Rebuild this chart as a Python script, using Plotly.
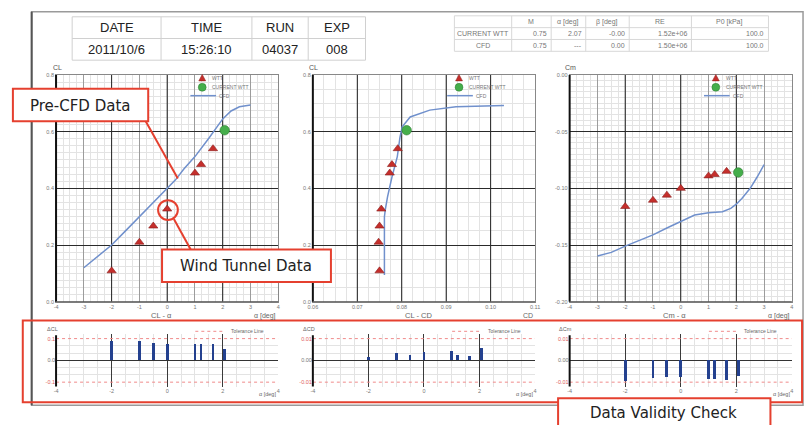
import plotly.graph_objects as go

W, H = 811, 425
def X(p): return p / W
def Y(p): return 1 - p / H

# ---------------- data ----------------
alpha_wtt = [-2.0, -1.0, -0.5, 0.0, 1.0, 1.22, 1.65]
cl_wtt = [0.109, 0.21, 0.267, 0.327, 0.454, 0.484, 0.54]
cd_wtt = [0.0750, 0.0748, 0.0750, 0.0754, 0.0773, 0.0778, 0.0791]
cm_wtt = [-0.116, -0.1105, -0.106, -0.100, -0.089, -0.0878, -0.085]

alpha_cur = [2.07]
cl_cur = [0.605]
cd_cur = [0.0811]
cm_cur = [-0.086]

alpha_cfd = [-3.0, -2.5, -2.0, -1.5, -1.0, -0.5, 0.0, 0.3, 0.6, 1.0, 1.5, 2.0, 2.3, 2.6, 3.0]
cl_cfd = [0.12, 0.16, 0.20, 0.25, 0.30, 0.35, 0.40, 0.43, 0.468, 0.512, 0.577, 0.645, 0.673, 0.688, 0.694]

cd_cfd_polar = [0.0761, 0.0761, 0.0761, 0.0763, 0.0768, 0.0778, 0.0790, 0.0796, 0.0801, 0.0819, 0.0863, 0.0922, 0.1030]
cl_cfd_polar = [0.094, 0.22, 0.30, 0.325, 0.37, 0.44, 0.512, 0.58, 0.617, 0.652, 0.676, 0.688, 0.692]

alpha_cfd_cm = [-3.0, -2.5, -2.0, -1.5, -1.0, -0.5, 0.0, 0.5, 1.0, 1.5, 1.8, 2.0, 2.2, 2.5, 2.75, 3.0]
cm_cfd = [-0.1596, -0.1565, -0.151, -0.1462, -0.141, -0.135, -0.129, -0.1235, -0.1215, -0.1206,
          -0.1177, -0.114, -0.109, -0.100, -0.090, -0.079]

alpha_delta = [-2.0, -1.0, -0.5, 0.0, 1.0, 1.22, 1.65, 2.07]
dcl = [0.088, 0.091, 0.082, 0.074, 0.074, 0.074, 0.074, 0.053]
dcd = [0.0015, 0.0035, 0.0026, 0.0038, 0.0044, 0.0024, 0.0018, 0.0059]
dcm = [-0.0093, -0.0083, -0.0078, -0.0078, -0.0087, -0.0087, -0.0090, -0.0070]
tol_cl = 0.1
tol_cd = 0.01
tol_cm = 0.01

alpha_ticks = [-4, -3, -2, -1, 0, 1, 2, 3, 4]
alpha_ticks_small = [-4, -2, 0, 2, 4]
cl_ticks = [0.0, 0.2, 0.4, 0.6, 0.8]
cd_ticks = [0.06, 0.07, 0.08, 0.09, 0.10, 0.11]
cm_ticks = [-0.20, -0.15, -0.10, -0.05, 0.00]

header_cols = ["DATE", "TIME", "RUN", "EXP"]
header_vals = ["2011/10/6", "15:26:10", "04037", "008"]
cond_cols = ["", "M", "α [deg]", "β [deg]", "RE", "P0 [kPa]"]
cond_rows = [["CURRENT WTT", "0.75", "2.07", "-0.00", "1.52e+06", "100.0"],
             ["CFD", "0.75", "---", "0.00", "1.50e+06", "100.0"]]

# ---------------- style ----------------
RED = "#e5402f"
TICKF = dict(family="Liberation Sans", size=5.5, color="#777")
WTT_C = "#c52f2c"
CUR_C = "#45ae4b"
CFD_C = "#7090cc"
BAR_C = "#24418f"

TOP = (73, 303)
BOT = (336, 389)
COLS = [(51.7, 276.7), (311.7, 536.7), (571.7, 796.7)]

fig = go.Figure()
shapes = []
ann = []

def add_line(x0, y0, x1, y1, color, width=1, dash=None):
    shapes.append(dict(type="line", xref="paper", yref="paper", x0=X(x0), y0=Y(y0), x1=X(x1), y1=Y(y1),
                       line=dict(color=color, width=width, dash=dash)))

def add_text(x, y, text, size, color="#222", xanchor="center", family="Liberation Sans"):
    ann.append(dict(x=X(x), y=Y(y), xref="paper", yref="paper", text=text, showarrow=False,
                    xanchor=xanchor, yanchor="middle", font=dict(family=family, size=size, color=color)))

# ---------------- top charts ----------------
top_specs = [
    dict(xs=alpha_wtt, ys=cl_wtt, cx=alpha_cur, cy=cl_cur, lx=alpha_cfd, ly=cl_cfd,
         xr=[-4, 4], xt=alpha_ticks, xtt=[str(v) for v in alpha_ticks], xmin=0.25,
         yr=[0, 0.8], yt=cl_ticks, ytt=["%.1f" % v for v in cl_ticks], ymin=0.025,
         dark=[-2, 0, 2], title="CL", sub="CL - α", unit="α [deg]"),
    dict(xs=cd_wtt, ys=cl_wtt, cx=cd_cur, cy=cl_cur, lx=cd_cfd_polar, ly=cl_cfd_polar,
         xr=[0.06, 0.11], xt=cd_ticks, xtt=["%.2f" % v for v in cd_ticks], xmin=0.0025,
         yr=[0, 0.8], yt=cl_ticks, ytt=["%.1f" % v for v in cl_ticks], ymin=0.05,
         dark=[0.07, 0.08, 0.09, 0.10], title="CL", sub="CL - CD", unit="CD"),
    dict(xs=alpha_wtt, ys=cm_wtt, cx=alpha_cur, cy=cm_cur, lx=alpha_cfd_cm, ly=cm_cfd,
         xr=[-4, 4], xt=alpha_ticks, xtt=[str(v) for v in alpha_ticks], xmin=0.25,
         yr=[-0.2, 0.0], yt=cm_ticks, ytt=["%.2f" % v for v in cm_ticks], ymin=0.005,
         dark=[-2, 0, 2], title="Cm", sub="Cm - α", unit="α [deg]"),
]

for i, s in enumerate(top_specs):
    n = i + 1
    xa = "x" if n == 1 else "x%d" % n
    ya = "y" if n == 1 else "y%d" % n
    x0, x1 = COLS[i]
    fig.add_trace(go.Scatter(x=s["lx"], y=s["ly"], mode="lines", line=dict(color=CFD_C, width=1.5),
                             xaxis=xa, yaxis=ya, showlegend=False))
    fig.add_trace(go.Scatter(x=s["xs"], y=s["ys"], mode="markers",
                             marker=dict(symbol="triangle-up", size=8, color=WTT_C,
                                         line=dict(color="#8a1d1b", width=0.6)),
                             xaxis=xa, yaxis=ya, showlegend=False))
    fig.add_trace(go.Scatter(x=s["cx"], y=s["cy"], mode="markers",
                             marker=dict(symbol="circle", size=9.5, color=CUR_C,
                                         line=dict(color="#2c7a31", width=0.6)),
                             xaxis=xa, yaxis=ya, showlegend=False))
    xkw = dict(domain=[X(x0), X(x1)], range=s["xr"], anchor=ya, tickmode="array", tickvals=s["xt"],
               ticktext=s["xtt"], tickfont=TICKF, showline=True, mirror=True, linecolor="#888",
               linewidth=1, zeroline=False, ticks="", gridcolor="#9c9c9c", gridwidth=1,
               minor=dict(dtick=s["xmin"], tick0=s["xr"][0], showgrid=True, gridcolor="#e3e3e3", gridwidth=1))
    ykw = dict(domain=[Y(TOP[1]), Y(TOP[0])], range=s["yr"], anchor=xa, tickmode="array", tickvals=s["yt"],
               ticktext=s["ytt"], tickfont=TICKF, showline=True, mirror=True, linecolor="#888",
               linewidth=1, zeroline=False, ticks="", gridcolor="#2a2a2a", gridwidth=1,
               minor=dict(dtick=s["ymin"], tick0=s["yr"][0], showgrid=True, gridcolor="#e3e3e3", gridwidth=1))
    fig.layout["xaxis" if n == 1 else "xaxis%d" % n] = xkw
    fig.layout["yaxis" if n == 1 else "yaxis%d" % n] = ykw
    for d in s["dark"]:
        shapes.append(dict(type="line", xref=xa, yref=ya, x0=d, x1=d, y0=s["yr"][0], y1=s["yr"][1],
                           line=dict(color="#2a2a2a", width=1), layer="between"))
    # thick left axis
    add_line(x0, TOP[0], x0, TOP[1], "#111", 2)
    add_line(x0, TOP[1], x1, TOP[1], "#555", 1)
    # titles
    add_text(x0 + 1, 65, s["title"], 7, "#555")
    add_text(x0 + 106.5, 317, s["sub"], 7.5, "#666")
    ann.append(dict(x=X(x1), y=Y(317), xref="paper", yref="paper", text=s["unit"], showarrow=False,
                    xanchor="right", yanchor="middle", font=dict(family="Liberation Sans", size=7, color="#666")))
    # legend samples
    lx = x0 + 148
    shapes.append(dict(type="path", xref="paper", yref="paper",
                       path="M %f,%f L %f,%f L %f,%f Z" % (X(lx - 3.5), Y(79), X(lx + 3.5), Y(79), X(lx), Y(72.5)),
                       fillcolor=WTT_C, line=dict(color="#8a1d1b", width=0.5)))
    shapes.append(dict(type="circle", xref="paper", yref="paper", x0=X(lx - 4), x1=X(lx + 4),
                       y0=Y(89.5), y1=Y(81.5), fillcolor=CUR_C, line=dict(color="#2c7a31", width=0.5)))
    add_line(x0 + 136, 94, x0 + 162, 94, CFD_C, 1.5)
    add_text(x0 + 156, 76, "WTT", 5, "#777", "left")
    add_text(x0 + 156, 85.5, "CURRENT WTT", 5, "#777", "left")
    add_text(x0 + 163, 94, "CFD", 5, "#777", "left")

# ---------------- bottom (validity) charts ----------------
bot_specs = [
    dict(d=dcl, tol=tol_cl, fmt="%.1f", title="ΔCL"),
    dict(d=dcd, tol=tol_cd, fmt="%.2f", title="ΔCD"),
    dict(d=dcm, tol=tol_cm, fmt="%.2f", title="ΔCm"),
]
for i, s in enumerate(bot_specs):
    n = i + 4
    xa, ya = "x%d" % n, "y%d" % n
    x0, x1 = COLS[i]
    tol = s["tol"]
    fig.add_trace(go.Bar(x=alpha_delta, y=s["d"], width=0.1, marker=dict(color=BAR_C, line=dict(width=0)),
                         xaxis=xa, yaxis=ya, showlegend=False))
    tt = ['<span style="color:#e06060">%s</span>' % (s["fmt"] % -tol), s["fmt"] % 0,
          '<span style="color:#e06060">%s</span>' % (s["fmt"] % tol)]
    fig.layout["xaxis%d" % n] = dict(domain=[X(x0), X(x1)], range=[-4, 4], anchor=ya, tickmode="array",
                                     tickvals=alpha_ticks_small, ticktext=[str(v) for v in alpha_ticks_small],
                                     tickfont=TICKF, showline=False, zeroline=False, ticks="",
                                     gridcolor="#3a3a3a", gridwidth=1,
                                     minor=dict(dtick=0.5, tick0=-4, showgrid=True, gridcolor="#e3e3e3"))
    fig.layout["yaxis%d" % n] = dict(domain=[Y(BOT[1]), Y(BOT[0])], range=[-1.2 * tol, 1.2 * tol], anchor=xa,
                                     tickmode="array", tickvals=[-tol, 0, tol], ticktext=tt, tickfont=TICKF,
                                     showgrid=False, zeroline=True, zerolinecolor="#333", zerolinewidth=1,
                                     showline=False, ticks="",
                                     minor=dict(tickvals=[-tol * 2 / 3, -tol / 3, tol / 3, tol * 2 / 3],
                                                showgrid=True, gridcolor="#e3e3e3"))
    for v in (tol, -tol):
        shapes.append(dict(type="line", xref=xa, yref=ya, x0=-4, x1=4, y0=v, y1=v,
                           line=dict(color="#f08a8a", width=1, dash="dot"), layer="between"))
    add_line(x0, BOT[0] + 1, x0, BOT[1], "#111", 2)
    add_text(x0 - 4, 331, s["title"], 5.5, "#666")
    add_line(x0 + 141, 333, x0 + 170, 333, "#f08a8a", 1, "dot")
    add_text(x0 + 175, 333, "Tolerance Line", 5, "#666", "left")
    ann.append(dict(x=X(x1), y=Y(397), xref="paper", yref="paper", text="α [deg]", showarrow=False,
                    xanchor="right", yanchor="middle", font=dict(family="Liberation Sans", size=5.5, color="#666")))

# ---------------- outer frame ----------------
shapes.insert(0, dict(type="rect", xref="paper", yref="paper", x0=X(27), x1=X(808), y0=Y(408), y1=Y(9),
                      line=dict(color="#9a9a9a", width=1.5), layer="below"))
add_line(27, 9, 27, 408, "#555", 2)

# ---------------- header table ----------------
hx = [68, 158, 250, 307, 365]
hy = [14, 36, 58]
for yy in hy:
    add_line(hx[0], yy, hx[-1], yy, "#d0d0d0", 1)
for xx in hx:
    add_line(xx, hy[0], xx, hy[-1], "#d0d0d0", 1)
for j in range(4):
    cx = (hx[j] + hx[j + 1]) / 2
    add_text(cx, 25, header_cols[j], 13, "#222")
    add_text(cx, 47, header_vals[j], 13, "#222")

# ---------------- conditions table ----------------
cx_b = [455, 513, 553, 588, 632, 695, 773]
cy_b = [13, 25, 37, 49]
for yy in cy_b:
    add_line(cx_b[0], yy, cx_b[-1], yy, "#d8d8d8", 1)
for xx in cx_b:
    add_line(xx, cy_b[0], xx, cy_b[-1], "#d8d8d8", 1)
for j in range(1, 6):
    add_text((cx_b[j] + cx_b[j + 1]) / 2, 19, cond_cols[j], 7, "#777")
for r, row in enumerate(cond_rows):
    yy = 31 + 12 * r
    if r == 0:
        add_text(cx_b[0] + 1, yy, row[0], 7, "#777", "left")
    else:
        add_text((cx_b[0] + cx_b[1]) / 2, yy, row[0], 7, "#777")
    for j in range(1, 6):
        ann.append(dict(x=X(cx_b[j + 1] - 2), y=Y(yy), xref="paper", yref="paper", text=row[j],
                        showarrow=False, xanchor="right", yanchor="middle",
                        font=dict(family="Liberation Sans", size=7, color="#777")))

# ---------------- callouts ----------------
def callout_rect(x0, y0, x1, y1):
    shapes.append(dict(type="rect", xref="paper", yref="paper", x0=X(x0), x1=X(x1), y0=Y(y1), y1=Y(y0),
                       fillcolor="white", line=dict(color=RED, width=2)))

add_line(138, 112, 175, 178, RED, 2)
callout_rect(8, 87, 145, 120)
add_text(76.5, 104, "Pre-CFD Data", 15, "#222", family="DejaVu Sans")

shapes.append(dict(type="circle", xref="paper", yref="paper", x0=X(155), x1=X(175), y0=Y(220), y1=Y(200),
                   line=dict(color=RED, width=2)))
add_line(171, 219, 188, 250, RED, 2)
callout_rect(159, 250, 330, 283)
add_text(244.5, 267, "Wind Tunnel Data", 15, "#222", family="DejaVu Sans")

shapes.append(dict(type="rect", xref="paper", yref="paper", x0=X(18), x1=X(807), y0=Y(405), y1=Y(322),
                   line=dict(color=RED, width=2)))
callout_rect(560, 401, 775, 440)
add_text(667, 416, "Data Validity Check", 15, "#222", family="DejaVu Sans")

fig.update_layout(width=W, height=H, margin=dict(l=0, r=0, t=0, b=0), paper_bgcolor="white",
                  plot_bgcolor="white", shapes=shapes, annotations=ann, showlegend=False, bargap=0,
                  hovermode=False)
fig.write_html("out.html", config={"displayModeBar": False, "staticPlot": True},
               post_script="document.body.style.margin='0';document.body.style.padding='0';"
                           "document.body.style.overflow='hidden';")
